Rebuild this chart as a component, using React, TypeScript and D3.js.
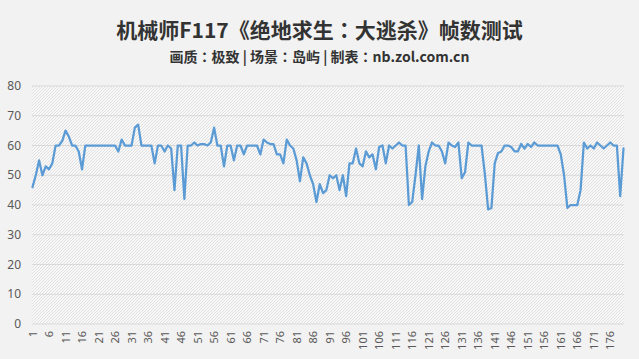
import React from "react";
import * as d3 from "d3";

const TITLE = "机械师F117《绝地求生：大逃杀》帧数测试";
const SUBTITLE = "画质：极致 | 场景：岛屿 | 制表：nb.zol.com.cn";

const fps: number[] = [
  46, 50, 55, 50, 53, 52, 54, 60, 60, 61.5,
  65, 63, 60, 60, 58, 52, 60, 60, 60, 60,
  60, 60, 60, 60, 60, 60, 58, 62, 60, 60,
  60, 66, 67, 60, 60, 60, 60, 54, 60, 60,
  58, 60, 59, 45, 60, 60, 42, 60, 60, 61,
  60, 60.5, 60.5, 60, 61, 66, 60, 60, 53, 60,
  60, 55, 60, 60, 57, 60, 60, 60, 60, 57,
  62, 61, 60.5, 60.5, 57, 57, 54, 62, 60, 59,
  55, 48, 56, 54, 50, 47, 41, 47, 44, 45,
  50, 49, 50, 45, 50, 43, 54, 54, 59, 54,
  53, 58, 56, 57, 52, 59.5, 60, 54, 60, 59,
  60, 61, 60, 60, 40, 41, 50, 60, 42, 53,
  58, 61, 60, 60, 58, 54, 61, 60, 59.5, 61,
  49, 51, 61, 60, 60, 60, 60, 50.5, 38.5, 39,
  54, 57.5, 58, 60, 60, 59.5, 58, 58, 60.5, 59,
  60.5, 59.5, 61, 60, 60, 60, 60, 60, 60, 60,
  57, 50, 39, 40, 40, 40, 45, 61, 59, 60,
  59, 61, 60, 59, 60, 61, 60, 60, 43, 59,
];

const categories: number[] = fps.map((_, i) => i + 1);
const yTicks: number[] = [0, 10, 20, 30, 40, 50, 60, 70, 80];
const xTickLabels: number[] = categories.filter((c) => (c - 1) % 5 === 0);

const W = 639;
const H = 359;
const PL = 32;
const PR = 624;
const PT = 86;
const PB = 324;

const cjkFont = "'Noto Sans CJK SC', 'Noto Sans', sans-serif";
const colonFont = "'Noto Sans CJK JP', 'Noto Sans CJK SC', sans-serif";
const axisFont = "'Noto Sans', 'DejaVu Sans', sans-serif";

function withCenteredColons(s: string) {
  const parts = s.split("：");
  const out: React.ReactNode[] = [];
  parts.forEach((p, i) => {
    out.push(<tspan key={`p${i}`}>{p}</tspan>);
    if (i < parts.length - 1) {
      out.push(
        <tspan key={`c${i}`} fontFamily={colonFont}>
          ：
        </tspan>
      );
    }
  });
  return out;
}

export default function App() {
  const x = d3.scalePoint<number>().domain(categories).range([PL + 0.5, PR - 0.5]).padding(0);
  const y = d3.scaleLinear().domain([0, 80]).range([PB, PT]);
  const line = d3
    .line<number>()
    .x((_, i) => x(categories[i]) as number)
    .y((d) => y(d))
    .curve(d3.curveLinear);

  return (
    <svg
      width={W}
      height={H}
      viewBox={`0 0 ${W} ${H}`}
      style={{ position: "fixed", left: 0, top: 0, display: "block" }}
    >
      <defs>
        <pattern id="hatch" width="3" height="3" patternUnits="userSpaceOnUse">
          <rect width="3" height="3" fill="#f8f8f8" />
          <path d="M0,3 L3,0 M-1,1 L1,-1 M2,4 L4,2" stroke="#d9d9d9" strokeWidth="0.8" />
        </pattern>
      </defs>
      <rect x={0} y={0} width={W} height={H} fill="#f2f2f2" />
      <text
        x={W / 2}
        y={38}
        textAnchor="middle"
        fontFamily={cjkFont}
        fontWeight={700}
        fontSize={21}
        fill="#333333"
      >
        {withCenteredColons(TITLE)}
      </text>
      <text
        x={W / 2}
        y={62}
        textAnchor="middle"
        fontFamily={cjkFont}
        fontWeight={700}
        fontSize={14}
        fill="#333333"
        style={{ whiteSpace: "pre" }}
      >
        {withCenteredColons(SUBTITLE)}
      </text>

      <rect x={PL} y={PT} width={PR - PL} height={PB - PT} fill="url(#hatch)" />

      {yTicks.map((t) => (
        <g key={t}>
          <line x1={PL} x2={PR} y1={y(t)} y2={y(t)} stroke="#d9d9d9" strokeWidth={1} />
          <text
            x={21}
            y={y(t)}
            dy="0.35em"
            textAnchor="end"
            fontFamily={axisFont}
            fontSize={12}
            fill="#595959"
          >
            {t}
          </text>
        </g>
      ))}

      {xTickLabels.map((c) => {
        const px = x(c) as number;
        return (
          <text
            key={c}
            transform={`translate(${px + 4},331) rotate(-90)`}
            textAnchor="end"
            fontFamily={axisFont}
            fontSize={11}
            fill="#595959"
          >
            {c}
          </text>
        );
      })}

      <path
        d={line(fps) ?? ""}
        fill="none"
        stroke="#5b9bd5"
        strokeWidth={2.25}
        strokeLinejoin="round"
        strokeLinecap="round"
      />
    </svg>
  );
}
